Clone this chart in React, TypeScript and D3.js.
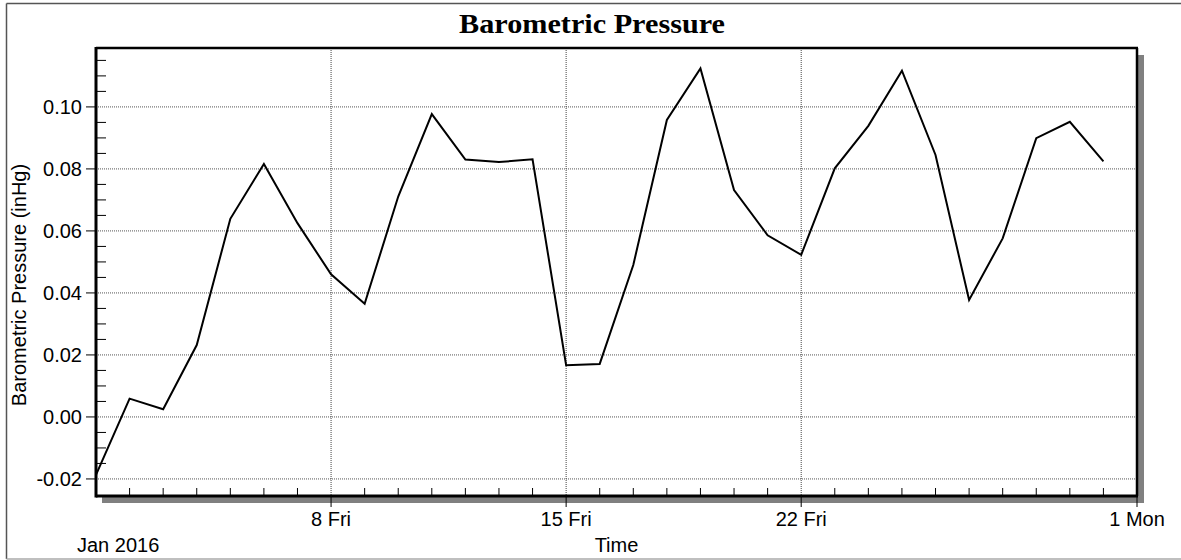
import React from 'react';
import * as d3 from 'd3';

// daily readings, Jan 2016
const days = [1, 2, 3, 4, 5, 6, 7, 8, 9, 10, 11, 12, 13, 14, 15, 16, 17, 18, 19, 20, 21, 22, 23, 24, 25, 26, 27, 28, 29, 30, 31];
const pressure = [
  -0.0187, 0.0059, 0.0025, 0.0232, 0.0639, 0.0816, 0.0625, 0.046, 0.0365, 0.0711,
  0.0977, 0.083, 0.0822, 0.0831, 0.0167, 0.0171, 0.049, 0.0958, 0.1124, 0.0732,
  0.0586, 0.0523, 0.0802, 0.0939, 0.1117, 0.0845, 0.0377, 0.0576, 0.0899, 0.0952,
  0.0824
];
const yTicks = [-0.02, 0, 0.02, 0.04, 0.06, 0.08, 0.1];
const xMajorLabels = [
  { day: 8, month: 0, label: '8 Fri' },
  { day: 15, month: 0, label: '15 Fri' },
  { day: 22, month: 0, label: '22 Fri' },
  { day: 1, month: 1, label: '1 Mon' }
];
const title = 'Barometric Pressure';
const yTitle = 'Barometric Pressure (inHg)';
const xTitle = 'Time';
const periodLabel = 'Jan 2016';

const W = 1181;
const H = 560;
const margin = { top: 48, right: 44, bottom: 64, left: 96 };
const sans = '"Liberation Sans", Arial, sans-serif';
const fs = 20;

export default function App() {
  const plotW = W - margin.left - margin.right;
  const plotH = H - margin.top - margin.bottom;
  const x = d3
    .scaleTime()
    .domain([new Date(2016, 0, 1), new Date(2016, 1, 1)])
    .range([margin.left, margin.left + plotW]);
  const y = d3
    .scaleLinear()
    .domain([-0.0255, 0.1190])
    .range([margin.top + plotH, margin.top]);

  const points = days.map((d, i) => ({ date: new Date(2016, 0, d), v: pressure[i] }));
  const line = d3
    .line<{ date: Date; v: number }>()
    .x(d => x(d.date))
    .y(d => y(d.v));

  const majorDates = xMajorLabels.map(m => new Date(2016, m.month, m.day));
  const minorDays = d3
    .timeDay.range(new Date(2016, 0, 2), new Date(2016, 1, 1))
    .filter(d => !majorDates.some(m => +m === +d));
  const yMinor = d3
    .range(-15, 116, 5)
    .map(v => v / 1000)
    .filter(v => !yTicks.some(t => Math.abs(t - v) < 1e-9));

  const x0 = margin.left;
  const x1 = margin.left + plotW;
  const y0 = margin.top + plotH;
  const y1 = margin.top;
  // plain hyphen for negatives, like the original
  const fmt = (v: number) => d3.format('.2f')(v).replace('\u2212', '-');

  return (
    <svg
      width={W}
      height={H}
      style={{ position: 'absolute', left: 0, top: 0, background: '#fff' }}
    >
      {/* outer frame */}
      <line x1={6.5} x2={W} y1={3.5} y2={3.5} stroke="#555" strokeWidth={1.5} />
      <line x1={6.5} x2={6.5} y1={3.5} y2={559} stroke="#555" strokeWidth={1.5} />
      <line x1={6.5} x2={W} y1={559} y2={559} stroke="#aaa" strokeWidth={1.5} />

      <text
        x={592}
        y={33}
        textAnchor="middle"
        fontFamily='"Liberation Serif", "Times New Roman", serif'
        fontWeight="bold"
        fontSize={27}
        textLength={266}
        lengthAdjust="spacingAndGlyphs"
      >
        {title}
      </text>

      {/* shadow */}
      <rect x={x1 + 1} y={y1 + 7} width={6} height={plotH} fill="#808080" />
      <rect x={x0 + 6} y={y0 + 1} width={plotW + 1} height={6} fill="#808080" />

      {/* grid */}
      {yTicks.map(t => (
        <line
          key={'gy' + t}
          x1={x0}
          x2={x1}
          y1={y(t)}
          y2={y(t)}
          stroke="#555"
          strokeWidth={1}
          strokeDasharray="1,1"
        />
      ))}
      {majorDates.slice(0, 3).map(d => (
        <line
          key={'gx' + +d}
          x1={x(d)}
          x2={x(d)}
          y1={y1}
          y2={y0}
          stroke="#444"
          strokeWidth={1}
          strokeDasharray="1,1"
        />
      ))}

      {/* y ticks */}
      {yMinor.map(v => (
        <line key={'ym' + v} x1={x0} x2={x0 + 10} y1={y(v)} y2={y(v)} stroke="#000" strokeWidth={1} />
      ))}
      {yTicks.map(t => (
        <g key={'yt' + t}>
          <line x1={x0 - 10} x2={x0} y1={y(t)} y2={y(t)} stroke="#000" strokeWidth={1} />
          <text
            x={x0 - 14}
            y={y(t)}
            dy="0.35em"
            textAnchor="end"
            fontFamily={sans}
            fontSize={fs}
          >
            {fmt(t)}
          </text>
        </g>
      ))}

      {/* x ticks */}
      {minorDays.map(d => (
        <line key={'xm' + +d} x1={x(d)} x2={x(d)} y1={y0 - 8} y2={y0} stroke="#000" strokeWidth={1} />
      ))}
      {xMajorLabels.map((m, i) => (
        <g key={'xt' + m.label}>
          <line
            x1={x(majorDates[i])}
            x2={x(majorDates[i])}
            y1={y0}
            y2={y0 + 11}
            stroke="#000"
            strokeWidth={1}
          />
          <text
            x={x(majorDates[i])}
            y={526}
            textAnchor="middle"
            fontFamily={sans}
            fontSize={fs}
          >
            {m.label}
          </text>
        </g>
      ))}

      {/* series */}
      <path d={line(points) || ''} fill="none" stroke="#000" strokeWidth={2} strokeLinejoin="miter" />

      {/* plot border */}
      <line x1={x0} x2={x1 + 1} y1={y1} y2={y1} stroke="#000" strokeWidth={2.5} />
      <line x1={x1} x2={x1} y1={y1} y2={y0} stroke="#000" strokeWidth={2.5} />
      <line x1={x0} x2={x0} y1={y1 - 1} y2={y0 + 1.5} stroke="#000" strokeWidth={3} />
      <line x1={x0} x2={x1 + 1} y1={y0} y2={y0} stroke="#000" strokeWidth={3} />

      {/* axis titles */}
      <text
        transform={`translate(26,285) rotate(-90)`}
        textAnchor="middle"
        fontFamily={sans}
        fontSize={fs}
      >
        {yTitle}
      </text>
      <text x={(x0 + x1) / 2} y={552} textAnchor="middle" fontFamily={sans} fontSize={fs}>
        {xTitle}
      </text>
      <text x={77} y={552} fontFamily={sans} fontSize={fs}>
        {periodLabel}
      </text>
    </svg>
  );
}
